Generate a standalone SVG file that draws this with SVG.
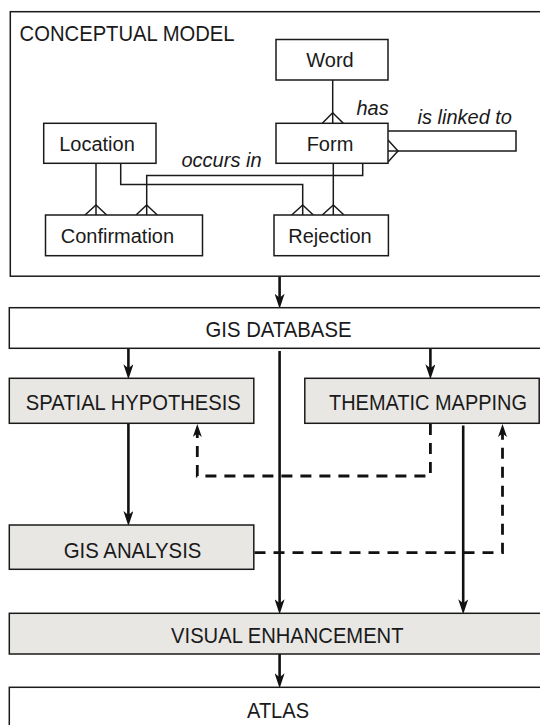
<svg xmlns="http://www.w3.org/2000/svg" width="540" height="725" viewBox="0 0 540 725">
<style>
  .frame { fill: #ffffff; stroke: #1a1a1a; stroke-width: 1.5; }
  .ent { fill: #ffffff; stroke: #1a1a1a; stroke-width: 1.5; }
  .proc { fill: #e9e7e4; stroke: #1a1a1a; stroke-width: 1.5; }
  .lbl { font-family: "Liberation Sans", Arial, sans-serif; font-size: 20px; fill: #1a1a1a; }
  .cap { font-family: "Liberation Sans", Arial, sans-serif; font-size: 21.5px; fill: #1a1a1a; }
  .rel { font-family: "Liberation Sans", Arial, sans-serif; font-size: 20px; font-style: italic; fill: #1a1a1a; }
  .er { fill: none; stroke: #1a1a1a; stroke-width: 1.5; }
  .flow { fill: none; stroke: #111111; stroke-width: 2.6; }
  .dash { fill: none; stroke: #111111; stroke-width: 2.8; stroke-dasharray: 11 8; }
</style>
<defs>
  <marker id="arr" viewBox="0 0 15 10" refX="6" refY="5" markerWidth="15" markerHeight="10" markerUnits="userSpaceOnUse" orient="auto">
    <path d="M0,0 L15,5 L0,10 L4,5 Z" fill="#111111"/>
  </marker>
  <marker id="arrd" viewBox="0 0 13 9" refX="5" refY="4.5" markerWidth="13" markerHeight="9" markerUnits="userSpaceOnUse" orient="auto">
    <path d="M0,0 L13,4.5 L0,9 L3.5,4.5 Z" fill="#111111"/>
  </marker>
</defs>

<g id="conceptual-model">
  <rect class="frame" x="10.3" y="11.7" width="545" height="264.5"/>
  <text class="cap" x="19.6" y="41" textLength="215" lengthAdjust="spacingAndGlyphs">CONCEPTUAL MODEL</text>
</g>

<g id="connectors">
  <!-- ER relations -->
  <path class="er" d="M332.7 80 V123.3"/>
  <path class="er" d="M322.3 123.3 L332.7 112.7 L343.3 123.3"/>
  <path class="er" d="M333.3 163.3 V215"/>
  <path class="er" d="M322.3 215 L333.3 205 L344 215"/>
  <path class="er" d="M362.7 163.3 V175.5 H146.7 V215"/>
  <path class="er" d="M136 215 L146.7 205 L157.3 215"/>
  <path class="er" d="M96 163.3 V215"/>
  <path class="er" d="M85 215 L96 205 L106.7 215"/>
  <path class="er" d="M120.7 163.3 V184.5 H302.7 V215"/>
  <path class="er" d="M291.7 215 L302.7 205 L313.3 215"/>
  <path class="er" d="M388 131 H516 V151 H388"/>
  <path class="er" d="M388 140 L398 151 L388 162"/>
  <!-- process flow -->
  <line class="flow" x1="279.6" y1="277" x2="279.6" y2="299.7" marker-end="url(#arr)"/>
  <line class="flow" x1="128.4" y1="348.3" x2="128.4" y2="370.3" marker-end="url(#arr)"/>
  <line class="flow" x1="430.4" y1="348.3" x2="430.4" y2="370.3" marker-end="url(#arr)"/>
  <line class="flow" x1="279.6" y1="351" x2="279.6" y2="605.3" marker-end="url(#arr)"/>
  <line class="flow" x1="128.4" y1="423.3" x2="128.4" y2="517" marker-end="url(#arr)"/>
  <line class="flow" x1="463.2" y1="425.5" x2="463.2" y2="605.3" marker-end="url(#arr)"/>
  <line class="flow" x1="279.6" y1="654" x2="279.6" y2="679.3" marker-end="url(#arr)"/>
  <path class="dash" d="M430.4 424 V476 H197.3 V432" marker-end="url(#arrd)"/>
  <path class="dash" d="M254.5 552.7 H502.5 V432" marker-end="url(#arrd)"/>
</g>

<g id="word">
  <rect class="ent" x="276" y="39.5" width="112" height="40.5"/>
  <text class="lbl" x="330" y="67" text-anchor="middle">Word</text>
</g>
<g id="form">
  <rect class="ent" x="276" y="123.3" width="112" height="40"/>
  <text class="lbl" x="330" y="151" text-anchor="middle">Form</text>
</g>
<g id="location">
  <rect class="ent" x="43.7" y="123.3" width="112.3" height="40"/>
  <text class="lbl" x="97" y="151" text-anchor="middle">Location</text>
</g>
<g id="confirmation">
  <rect class="ent" x="45.5" y="215" width="157" height="40.7"/>
  <text class="lbl" x="117.4" y="243" text-anchor="middle">Confirmation</text>
</g>
<g id="rejection">
  <rect class="ent" x="274" y="215" width="114.4" height="40.7"/>
  <text class="lbl" x="330" y="243" text-anchor="middle">Rejection</text>
</g>
<g id="relation-labels">
  <text class="rel" x="356.4" y="115">has</text>
  <text class="rel" x="417.5" y="124">is linked to</text>
  <text class="rel" x="181.5" y="167">occurs in</text>
</g>

<g id="gis-database">
  <rect class="ent" x="9.3" y="307.7" width="545" height="40.6"/>
  <text class="cap" x="205.5" y="337" textLength="146" lengthAdjust="spacingAndGlyphs">GIS DATABASE</text>
</g>
<g id="spatial-hypothesis">
  <rect class="proc" x="9.3" y="378.3" width="244.5" height="45"/>
  <text class="cap" x="25.8" y="410" textLength="215" lengthAdjust="spacingAndGlyphs">SPATIAL HYPOTHESIS</text>
</g>
<g id="thematic-mapping">
  <rect class="proc" x="304.8" y="378.3" width="234.4" height="45"/>
  <text class="cap" x="329" y="410" textLength="198" lengthAdjust="spacingAndGlyphs">THEMATIC MAPPING</text>
</g>
<g id="gis-analysis">
  <rect class="proc" x="9.3" y="525" width="244.5" height="44.3"/>
  <text class="cap" x="63.7" y="558" textLength="137.7" lengthAdjust="spacingAndGlyphs">GIS ANALYSIS</text>
</g>
<g id="visual-enhancement">
  <rect class="proc" x="9.3" y="613.3" width="545" height="40.7"/>
  <text class="cap" x="171.1" y="643" textLength="232.4" lengthAdjust="spacingAndGlyphs">VISUAL ENHANCEMENT</text>
</g>
<g id="atlas">
  <rect class="ent" x="9.3" y="687.3" width="545" height="60"/>
  <text class="cap" x="247" y="718" textLength="62" lengthAdjust="spacingAndGlyphs">ATLAS</text>
</g>
</svg>
